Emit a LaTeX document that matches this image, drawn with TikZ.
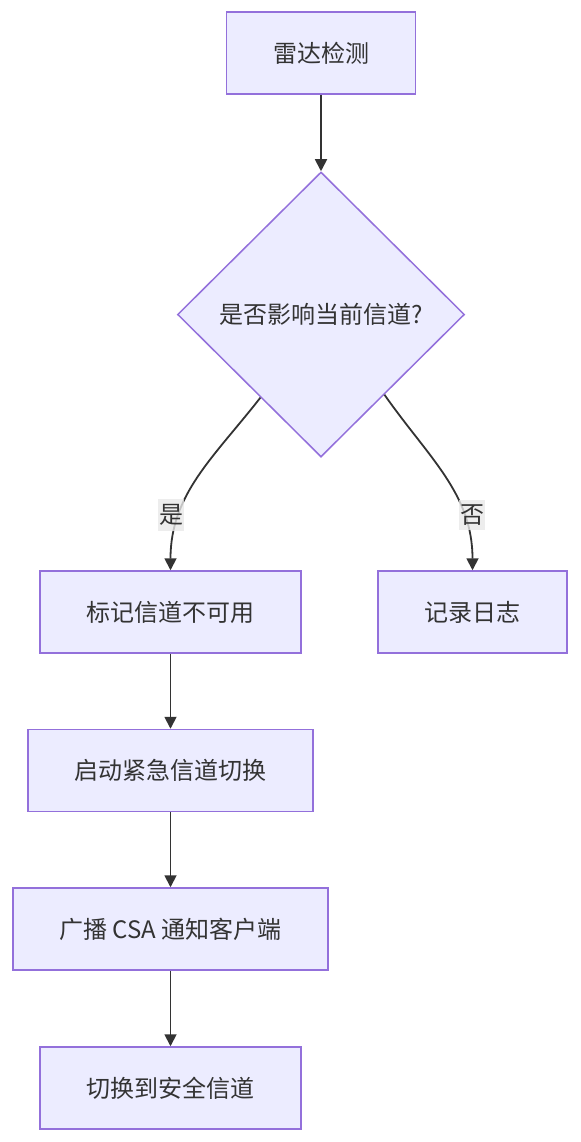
\documentclass[tikz,border=0pt]{standalone}
\usepackage{fontspec}
\newfontfamily\cjk{Noto Sans CJK SC}
\usetikzlibrary{arrows.meta,shapes.geometric,calc}

\definecolor{boxfill}{HTML}{ECECFF}
\definecolor{boxline}{HTML}{9370DB}
\definecolor{ink}{HTML}{333333}
\definecolor{lblfill}{HTML}{E8E8E8}

\begin{document}
\begin{tikzpicture}[
    x=0.5pt, y=-0.5pt,
    % 流程框样式
    procbox/.style={
        draw=boxline, fill=boxfill, line width=0.75pt,
        font=\cjk\fontsize{12pt}{14pt}\selectfont, text=ink,
        minimum height=41pt, inner xsep=23.25pt
    },
    % 判断菱形样式
    decbox/.style={
        diamond, aspect=1, draw=boxline, fill=boxfill, line width=0.75pt,
        font=\cjk\fontsize{12pt}{14pt}\selectfont, text=ink,
        minimum width=143.5pt, minimum height=142.5pt, inner sep=0pt
    },
    % 连线与箭头
    flow/.style={draw=ink, line width=0.9pt, -{Triangle[length=6pt,width=6pt]}},
    % 连线上的标签
    edgelbl/.style={
        fill=lblfill, fill opacity=0.8, text opacity=1, text=ink,
        font=\cjk\fontsize{12pt}{14pt}\selectfont,
        inner xsep=0.3pt, inner ysep=2.5pt
    }
]
    \useasboundingbox (0,0) rectangle (580,1142);

    % 节点
    \node[procbox] (radar) at (321,53) {雷达检测};
    \node[decbox] (dec) at (321,314.5) {是否影响当前信道?};
    \node[procbox] (mark) at (170.5,612) {标记信道不可用};
    \node[procbox] (log) at (472.5,612) {记录日志};
    \node[procbox] (switch) at (170.5,770.5) {启动紧急信道切换};
    \node[procbox] (csa) at (170.5,929) {广播 CSA 通知客户端};
    \node[procbox] (safe) at (170.5,1088) {切换到安全信道};

    % 菱形下方两边的出发点
    \coordinate (decL) at ($(dec.west)!0.58!(dec.south)$);
    \coordinate (decR) at ($(dec.east)!0.56!(dec.south)$);

    % 主流程
    \draw[flow] (radar) -- (dec);
    \draw[flow] (decL) to[out=-128, in=90] (mark.north);
    \draw[flow] (decR) to[out=-55, in=90] (log.north);
    \draw[flow] (mark) -- (switch);
    \draw[flow] (switch) -- (csa);
    \draw[flow] (csa) -- (safe);

    % 是 / 否 标签
    \node[edgelbl] (yes) at (171,515) {是};
    \node[edgelbl] (no) at (472,515) {否};
\end{tikzpicture}
\end{document}
